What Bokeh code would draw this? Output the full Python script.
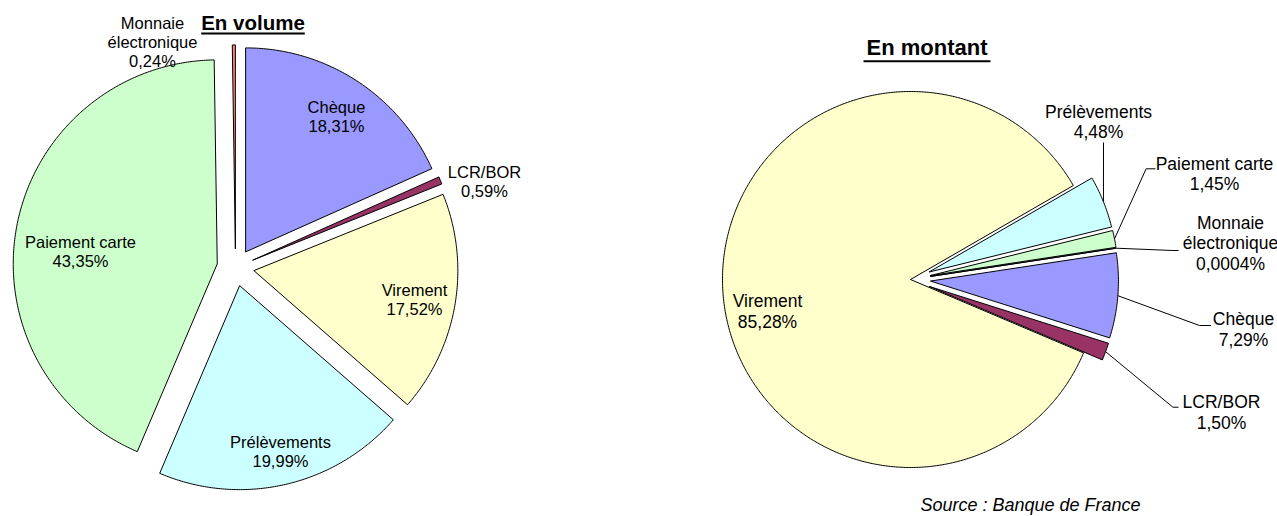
import numpy as np
from bokeh.plotting import figure
from bokeh.models import Range1d
from bokeh.embed import file_html
from bokeh.resources import INLINE
from bokeh.core.properties import value

# ---------------- DATA ----------------
categories = ["Chèque", "LCR/BOR", "Virement", "Prélèvements", "Paiement carte", "Monnaie électronique"]
label_lines_volume = [["Chèque"], ["LCR/BOR"], ["Virement"], ["Prélèvements"], ["Paiement carte"], ["Monnaie", "électronique"]]
label_lines_montant = [["Chèque"], ["LCR/BOR"], ["Virement"], ["Prélèvements"], ["Paiement carte"], ["Monnaie", "électronique"]]
volume_pct = [18.31, 0.59, 17.52, 19.99, 43.35, 0.24]
montant_pct = [7.29, 1.50, 85.28, 4.48, 1.45, 0.0004]
slice_colors = ["#9999FF", "#993366", "#FFFFCC", "#CCFFFF", "#CCFFCC", "#FF8080"]
title_volume = "En volume"
title_montant = "En montant"
source_text = "Source : Banque de France"

# ---------------- LAYOUT (screen pixel coordinates) ----------------
W, H = 1277, 516
FONT = value("Liberation Sans")

left_pie = dict(cx=235, cy=267, r=204, start=0.0, explode=[18.6] * 6)
right_pie = dict(cx=910, cy=279, r=188, start=81.35, explode=[20, 20, 0, 20, 20, 20])

left_labels = [(336, 116), (484, 180.5), (414, 299), (280, 451), (80, 251), (152, 41)]
right_labels = [(1243, 329), (1221, 412), (767, 311), (1098, 121.5), (1214, 173.5), (1230, 242.7)]
left_font, left_spacing = "16.5px", 19
right_font, right_spacing = "17.5px", 20.5

# leader lines (right pie): points after the anchor on the slice edge
right_leaders = {
    0: [(1199, 325), (1210.5, 325)],
    1: [(1172.4, 406.7), (1178, 406.7)],
    3: [(1103, 142)],
    4: [(1145.6, 168.3), (1155, 168.3)],
    5: [(1172.4, 250), (1178, 250)],
}


def fmt(v):
    d = 2 if v >= 0.01 else 4
    return f"{v:.{d}f}".replace(".", ",") + "%"


def slices(vals, pie):
    total = sum(vals)
    a = pie["start"]
    out = []
    for v, e in zip(vals, pie["explode"]):
        span = v / total * 360.0
        a0, a1 = a, a + span
        m = np.radians((a0 + a1) / 2)
        tx = pie["cx"] + e * np.sin(m)
        ty = pie["cy"] - e * np.cos(m)
        n = max(3, int(span * 2))
        th = np.radians(np.linspace(a0, a1, n))
        xs = [tx] + list(tx + pie["r"] * np.sin(th)) + [tx]
        ys = [ty] + list(ty - pie["r"] * np.cos(th)) + [ty]
        anchor = (tx + pie["r"] * np.sin(m), ty - pie["r"] * np.cos(m))
        out.append((xs, ys, anchor))
        a = a1
    return out


p = figure(width=W, height=H, x_range=Range1d(0, W), y_range=Range1d(H, 0),
           output_backend="svg", toolbar_location=None, min_border=0,
           outline_line_color=None, background_fill_color="white")
p.xaxis.visible = False
p.yaxis.visible = False
p.xgrid.visible = False
p.ygrid.visible = False


def draw_pie(vals, pie, label_lines, positions, font, spacing, leaders=None):
    sl = slices(vals, pie)
    p.patches([s[0] for s in sl], [s[1] for s in sl], fill_color=slice_colors,
              line_color="black", line_width=1)
    if leaders:
        for i, pts in leaders.items():
            ax, ay = sl[i][2]
            p.line([ax] + [q[0] for q in pts], [ay] + [q[1] for q in pts],
                   line_color="black", line_width=1)
    for lines, v, (x, y) in zip(label_lines, vals, positions):
        all_lines = lines + [fmt(v)]
        k = len(all_lines)
        ys = [y + (j - (k - 1) / 2) * spacing for j in range(k)]
        p.text([x] * k, ys, text=all_lines, text_align="center", text_baseline="middle",
               text_font=FONT, text_font_size=font, text_color="black")


draw_pie(volume_pct, left_pie, label_lines_volume, left_labels, left_font, left_spacing)
draw_pie(montant_pct, right_pie, label_lines_montant, right_labels, right_font, right_spacing, right_leaders)

# titles (bold, underlined)
p.text([252.5], [22], text=[title_volume], text_align="center", text_baseline="middle",
       text_font=FONT, text_font_size="20.5px", text_font_style="bold")
p.segment([200.7], [33], [304.3], [33], line_color="black", line_width=2)
p.text([926.5], [47], text=[title_montant], text_align="center", text_baseline="middle",
       text_font=FONT, text_font_size="22px", text_font_style="bold")
p.segment([863], [60.7], [990], [60.7], line_color="black", line_width=2)

# source
p.text([1030], [514], text=[source_text], text_align="center", text_baseline="bottom",
       text_font=FONT, text_font_size="18px", text_font_style="italic")

open("out.html", "w").write(file_html(p, INLINE))
